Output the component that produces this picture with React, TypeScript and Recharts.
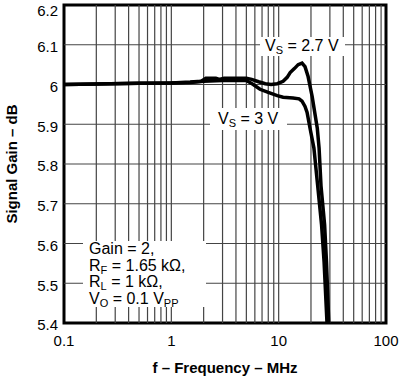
import React from "react";
import {
  LineChart,
  Line,
  XAxis,
  YAxis,
  ReferenceLine,
  ReferenceArea,
  Label,
} from "recharts";

const xTicks = [0.1, 1, 10, 100];
const yTicks = [5.4, 5.5, 5.6, 5.7, 5.8, 5.9, 6.0, 6.1, 6.2];
const gridX = [
  0.2, 0.3, 0.4, 0.5, 0.6, 0.7, 0.8, 0.9, 1, 2, 3, 4, 5, 6, 7, 8, 9, 10, 20,
  30, 40, 50, 60, 70, 80, 90,
];
const gridY = [5.5, 5.6, 5.7, 5.8, 5.9, 6.0, 6.1];

// Vs = 2.7 V
const freq27 = [
  0.1, 0.2, 0.5, 1.0, 1.5, 1.9, 2.1, 2.6, 2.8, 3.1, 4.0, 5.0, 5.6, 6.5, 7.5,
  8.5, 9.7, 11, 12, 12.8, 14, 15.2, 16.5, 17.6, 18.8, 20.5, 22.9, 23.8, 24.8,
  26.8, 27.9, 29.3,
];
const gain27 = [
  6.0, 6.001, 6.003, 6.004, 6.006, 6.008, 6.016, 6.016, 6.013, 6.016, 6.016,
  6.016, 6.013, 6.007, 6.002, 6.0, 6.002, 6.008, 6.018, 6.03, 6.04, 6.05,
  6.054, 6.045, 6.02, 5.97, 5.89, 5.84, 5.745, 5.647, 5.553, 5.4,
];

// Vs = 3 V
const freq3 = [
  0.1, 0.2, 0.5, 1.0, 1.5, 2.0, 3.0, 4.0, 5.0, 5.8, 6.7, 8.0, 9.7, 11, 13.6,
  15.5, 16.5, 17.6, 18.4, 19.6, 21.3, 23.1, 25.1, 26.5, 28.2,
];
const gain3 = [
  6.0, 6.001, 6.003, 6.004, 6.005, 6.008, 6.01, 6.011, 6.01, 6.0, 5.988, 5.98,
  5.972, 5.968, 5.966, 5.964, 5.958, 5.945, 5.93, 5.89, 5.84, 5.745, 5.647,
  5.553, 5.4,
];

const data27 = freq27.map((f, i) => ({ f, g: gain27[i] }));
const data3 = freq3.map((f, i) => ({ f, g: gain3[i] }));

const FONT = '"Liberation Sans", Arial, Helvetica, sans-serif';
const tickStyle = { fill: "#000", fontSize: 15, fontFamily: FONT };
const titleStyle = {
  fontSize: 15,
  fontWeight: "bold",
  fill: "#000",
  fontFamily: FONT,
};

const sub: React.CSSProperties = {
  fontSize: 11,
  verticalAlign: "-3px",
  lineHeight: 0,
};

const noteLine: React.CSSProperties = {
  height: 16.5,
  lineHeight: "16.5px",
  whiteSpace: "nowrap",
};

function Box({
  left,
  top,
  width,
  height,
  textLeft,
  textTop,
  children,
}: {
  left: number;
  top: number;
  width: number;
  height: number;
  textLeft: number;
  textTop: number;
  children: React.ReactNode;
}) {
  return (
    <div
      style={{
        position: "absolute",
        left,
        top,
        width,
        height,
        background: "#fff",
      }}
    >
      <div
        style={{
          position: "absolute",
          left: textLeft - left,
          top: textTop - top,
          fontSize: 16,
          color: "#000",
        }}
      >
        {children}
      </div>
    </div>
  );
}

export default function App() {
  return (
    <div
      style={{
        position: "fixed",
        left: 0,
        top: 0,
        width: 400,
        height: 379,
        background: "#fff",
        fontFamily: FONT,
      }}
    >
      <LineChart
        width={400}
        height={379}
        margin={{ top: 5, right: 14, bottom: 0, left: 0 }}
      >
        <XAxis
          dataKey="f"
          type="number"
          scale="log"
          domain={[0.1, 100]}
          ticks={xTicks}
          allowDataOverflow
          height={56}
          tickLine={false}
          axisLine={false}
          tickSize={0}
          tickMargin={12}
          tick={tickStyle}
          tickFormatter={(v) => String(v)}
        >
          <Label
            value="f – Frequency – MHz"
            position="insideBottom"
            offset={6}
            style={titleStyle}
          />
        </XAxis>
        <YAxis
          type="number"
          domain={[5.4, 6.2]}
          ticks={yTicks}
          allowDataOverflow
          width={64}
          tickLine={false}
          axisLine={false}
          tickSize={0}
          tickMargin={6}
          tick={{ ...tickStyle, dy: 2 }}
          tickFormatter={(v) => (v === 6 ? "6" : v.toFixed(1))}
        >
          <Label
            value="Signal Gain – dB"
            angle={-90}
            position="insideLeft"
            offset={12}
            style={{ ...titleStyle, textAnchor: "middle" }}
          />
        </YAxis>
        {gridX.map((v) => (
          <ReferenceLine key={"x" + v} x={v} stroke="#444" strokeWidth={1.2} />
        ))}
        {gridY.map((v) => (
          <ReferenceLine key={"y" + v} y={v} stroke="#444" strokeWidth={1.2} />
        ))}
        <ReferenceArea
          x1={0.1}
          x2={100}
          y1={5.4}
          y2={6.2}
          fill="none"
          fillOpacity={0}
          stroke="#000"
          strokeWidth={3}
        />
        <Line
          data={data3}
          dataKey="g"
          type="linear"
          stroke="#000"
          strokeWidth={3.5}
          dot={false}
          isAnimationActive={false}
        />
        <Line
          data={data27}
          dataKey="g"
          type="linear"
          stroke="#000"
          strokeWidth={3.5}
          dot={false}
          isAnimationActive={false}
        />
      </LineChart>

      <Box left={83} top={241} width={123} height={66} textLeft={89} textTop={241}>
        <div style={noteLine}>Gain = 2,</div>
        <div style={noteLine}>
          R<span style={sub}>F</span> = 1.65 kΩ,
        </div>
        <div style={noteLine}>
          R<span style={sub}>L</span> = 1 kΩ,
        </div>
        <div style={noteLine}>
          V<span style={sub}>O</span> = 0.1 V<span style={sub}>PP</span>
        </div>
      </Box>

      <Box left={260} top={37} width={85} height={19} textLeft={265} textTop={37}>
        <div style={{ ...noteLine, height: 18, lineHeight: "18px" }}>
          V<span style={sub}>S</span> = 2.7 V
        </div>
      </Box>

      <Box left={210} top={108} width={77} height={22} textLeft={218} textTop={109.5}>
        <div style={{ ...noteLine, height: 18, lineHeight: "18px" }}>
          V<span style={sub}>S</span> = 3 V
        </div>
      </Box>
    </div>
  );
}
